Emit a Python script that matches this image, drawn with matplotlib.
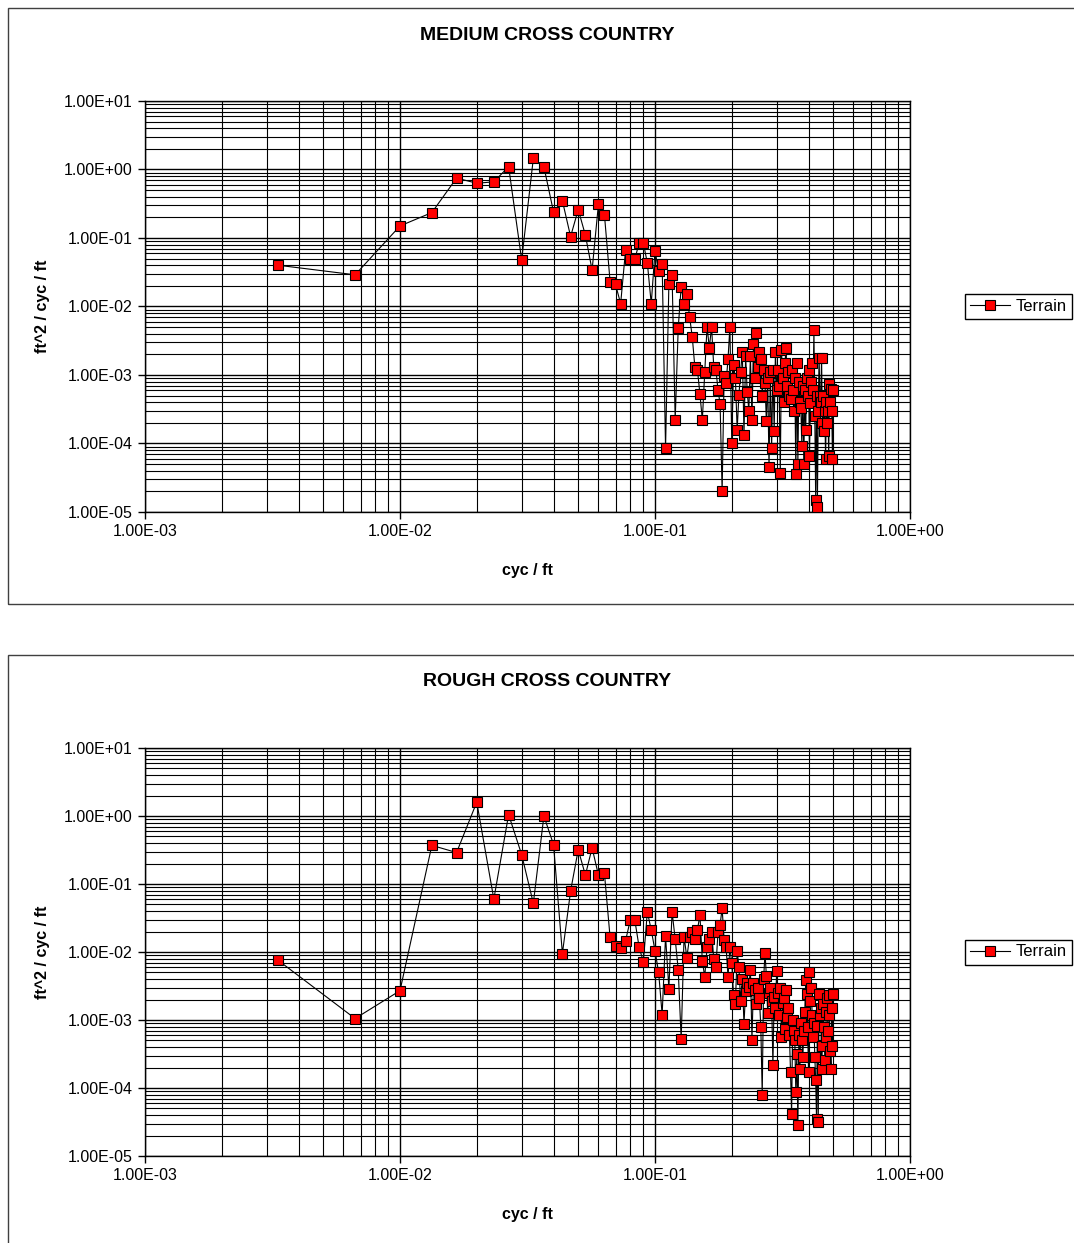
import numpy as np
import matplotlib
matplotlib.use("Agg")
import matplotlib.pyplot as plt
from matplotlib.patches import Rectangle
from matplotlib.ticker import FuncFormatter, LogLocator, NullFormatter

plt.rcParams['font.family'] = ['Liberation Sans', 'DejaVu Sans']

# frequency bins, spacing 1/300 cyc/ft (150 bins up to 0.5 cyc/ft)
bin_index = np.arange(1, 151)
freq = bin_index / 300.0

medium_psd = [
    0.040, 0.029, 0.15, 0.235, 0.75, 0.63, 0.66, 1.1, 0.048, 1.45,
    1.1, 0.24, 0.35, 0.105, 0.26, 0.11, 0.034, 0.31, 0.22, 0.023,
    0.021, 0.011, 0.067, 0.049, 0.049, 0.085, 0.085, 0.043, 0.011, 0.065,
    0.033, 0.042, 8.5e-5, 0.021, 0.029, 2.2e-4, 0.0049, 0.0195, 0.0109, 0.015,
    0.0071, 0.0036, 0.0013, 0.0012, 5.3e-4, 2.2e-4, 0.0011, 0.0051, 0.0025, 0.0051,
    0.0013, 0.0012, 6e-4, 3.8e-4, 2e-5, 9.7e-4, 7.7e-4, 0.0017, 0.0051, 1.0e-4,
    0.0014, 8.9e-4, 1.6e-4, 5.1e-4, 0.0011, 0.0022, 1.35e-4, 0.0019, 5.6e-4, 3.0e-4,
    0.0019, 2.2e-4, 0.0028, 9e-4, 0.0041, 0.0013, 0.0022, 0.0017, 5e-4, 0.0012,
    7.6e-4, 2.1e-4, 9e-4, 4.5e-5, 0.0011, 8.7e-5, 0.0012, 1.5e-4, 0.0022, 6e-4,
    0.0012, 7e-4, 3.7e-5, 0.0023, 9e-4, 4e-4, 0.0015, 0.0025, 6.9e-4, 0.0011,
    5e-4, 4.4e-4, 0.0012, 6e-4, 3.0e-4, 9e-4, 3.6e-5, 0.0015, 5.1e-5, 8e-4,
    4e-4, 3.3e-4, 9.1e-5, 7e-4, 5e-5, 6e-4, 1.6e-4, 9e-4, 5e-4, 0.0012,
    6.5e-5, 3.9e-4, 8e-4, 0.0015, 6e-4, 0.0045, 2.5e-4, 1.5e-5, 5e-4, 1.2e-5,
    3e-4, 0.0018, 5e-4, 4e-4, 0.0018, 2e-4, 5e-4, 1.5e-4, 3e-4, 6e-5,
    4e-4, 2e-4, 3e-4, 6.5e-5, 7.4e-4, 4e-4, 6.3e-4, 3e-4, 6e-5, 6e-4,
]

rough_psd = [
    0.0075, 0.00105, 0.0027, 0.37, 0.29, 1.6, 0.060, 1.05, 0.27, 0.052,
    1.0, 0.38, 0.0095, 0.079, 0.32, 0.135, 0.34, 0.135, 0.144, 0.0164,
    0.0123, 0.0116, 0.0147, 0.0295, 0.0295, 0.0117, 0.0072, 0.039, 0.021, 0.0105,
    0.005, 0.0012, 0.0172, 0.0029, 0.039, 0.0155, 0.0055, 5.2e-4, 0.0168, 0.0083,
    0.0168, 0.020, 0.0155, 0.021, 0.035, 0.0074, 0.0043, 0.0117, 0.0155, 0.020,
    0.0079, 0.006, 0.020, 0.025, 0.044, 0.0151, 0.012, 0.0043, 0.0117, 0.0068,
    0.0023, 0.0017, 0.0104, 0.0061, 0.0019, 0.0040, 8.7e-4, 0.0027, 0.0035, 0.0031,
    0.0055, 5.1e-4, 0.0035, 0.0028, 0.0017, 0.0030, 0.0021, 7.9e-4, 7.9e-5, 0.0040,
    0.0098, 0.0045, 0.00126, 0.0025, 0.0030, 0.0019, 2.2e-4, 0.0022, 0.0015, 0.0053,
    0.0025, 0.0012, 0.0030, 5.6e-4, 0.0018, 0.0021, 7.3e-4, 0.0028, 0.0011, 0.0015,
    6e-4, 1.7e-4, 4.1e-5, 0.0010, 7.0e-4, 5.1e-4, 8.6e-5, 3.2e-4, 2.9e-5, 6e-4,
    1.9e-4, 9e-4, 5.1e-4, 2.9e-4, 7e-4, 0.0013, 0.0039, 0.0024, 7.8e-4, 1.7e-4,
    0.005, 0.0019, 0.0030, 0.0012, 5.6e-4, 9e-4, 2.9e-4, 1.3e-4, 3.5e-5, 8.2e-4,
    3.2e-5, 0.0024, 0.0012, 0.0015, 1.9e-4, 4.1e-4, 0.0017, 8e-4, 2.6e-4, 5.6e-4,
    0.0013, 0.0021, 7e-4, 0.0023, 0.0012, 3.5e-4, 1.9e-4, 0.0015, 4.1e-4, 0.0024,
]

titles = ["MEDIUM CROSS COUNTRY", "ROUGH CROSS COUNTRY"]
series_name = "Terrain"

W, H = 1074, 1243
fig = plt.figure(figsize=(W / 100, H / 100), dpi=100)

sci = FuncFormatter(lambda v, pos: "%.2E" % v)


def draw_chart(frame_top, frame_bottom, ax_top, ax_bottom, title, psd):
    # outer chart frame (runs off the right edge like the original sheet)
    fig.add_artist(Rectangle((8 / W, 1 - frame_bottom / H), (W + 10) / W,
                             (frame_bottom - frame_top) / H,
                             transform=fig.transFigure, fill=False,
                             edgecolor="#404040", lw=1.0))

    ax = fig.add_axes([145 / W, 1 - ax_bottom / H, 765 / W, (ax_bottom - ax_top) / H])
    ax.plot(freq, psd, color="black", lw=0.8, marker="s", ms=6.5,
            mfc="red", mec="black", mew=0.8, label=series_name, zorder=3)
    ax.set_xscale("log")
    ax.set_yscale("log")
    ax.set_xlim(1e-3, 1e0)
    ax.set_ylim(1e-5, 1e1)

    ax.xaxis.set_major_locator(LogLocator(base=10, numticks=10))
    ax.yaxis.set_major_locator(LogLocator(base=10, numticks=10))
    ax.xaxis.set_minor_locator(LogLocator(base=10, subs=np.arange(2, 10), numticks=20))
    ax.yaxis.set_minor_locator(LogLocator(base=10, subs=np.arange(2, 10), numticks=20))
    ax.xaxis.set_major_formatter(sci)
    ax.yaxis.set_major_formatter(sci)
    ax.xaxis.set_minor_formatter(NullFormatter())
    ax.yaxis.set_minor_formatter(NullFormatter())

    ax.grid(which="major", color="black", lw=1.0)
    ax.grid(which="minor", color="black", lw=0.8)
    ax.set_axisbelow(True)
    ax.tick_params(which="major", direction="out", length=5, width=1,
                   labelsize=11.5, pad=4)
    ax.tick_params(which="minor", length=0)
    for s in ax.spines.values():
        s.set_color("black")
        s.set_linewidth(1.0)

    ax.set_xlabel("cyc / ft", fontsize=11.5, fontweight="bold", labelpad=17)
    ax.set_ylabel("ft^2 / cyc / ft", fontsize=11.5, fontweight="bold", labelpad=10)

    fig.text(547 / W, 1 - (frame_top + 27) / H, title, ha="center", va="center",
             fontsize=14, fontweight="bold")

    mid = (ax_top + ax_bottom) / 2
    fig.legend(loc="center left", bbox_to_anchor=(965 / W, 1 - mid / H),
               handles=ax.get_lines(), fontsize=12, frameon=True, fancybox=False,
               edgecolor="black", framealpha=1, numpoints=1, handlelength=2.4,
               handletextpad=0.35, borderpad=0.3, borderaxespad=0)
    return ax


draw_chart(8, 604, 101, 512, titles[0], medium_psd)
draw_chart(655, 1260, 748, 1156, titles[1], rough_psd)

plt.savefig("out.png", dpi=100)
